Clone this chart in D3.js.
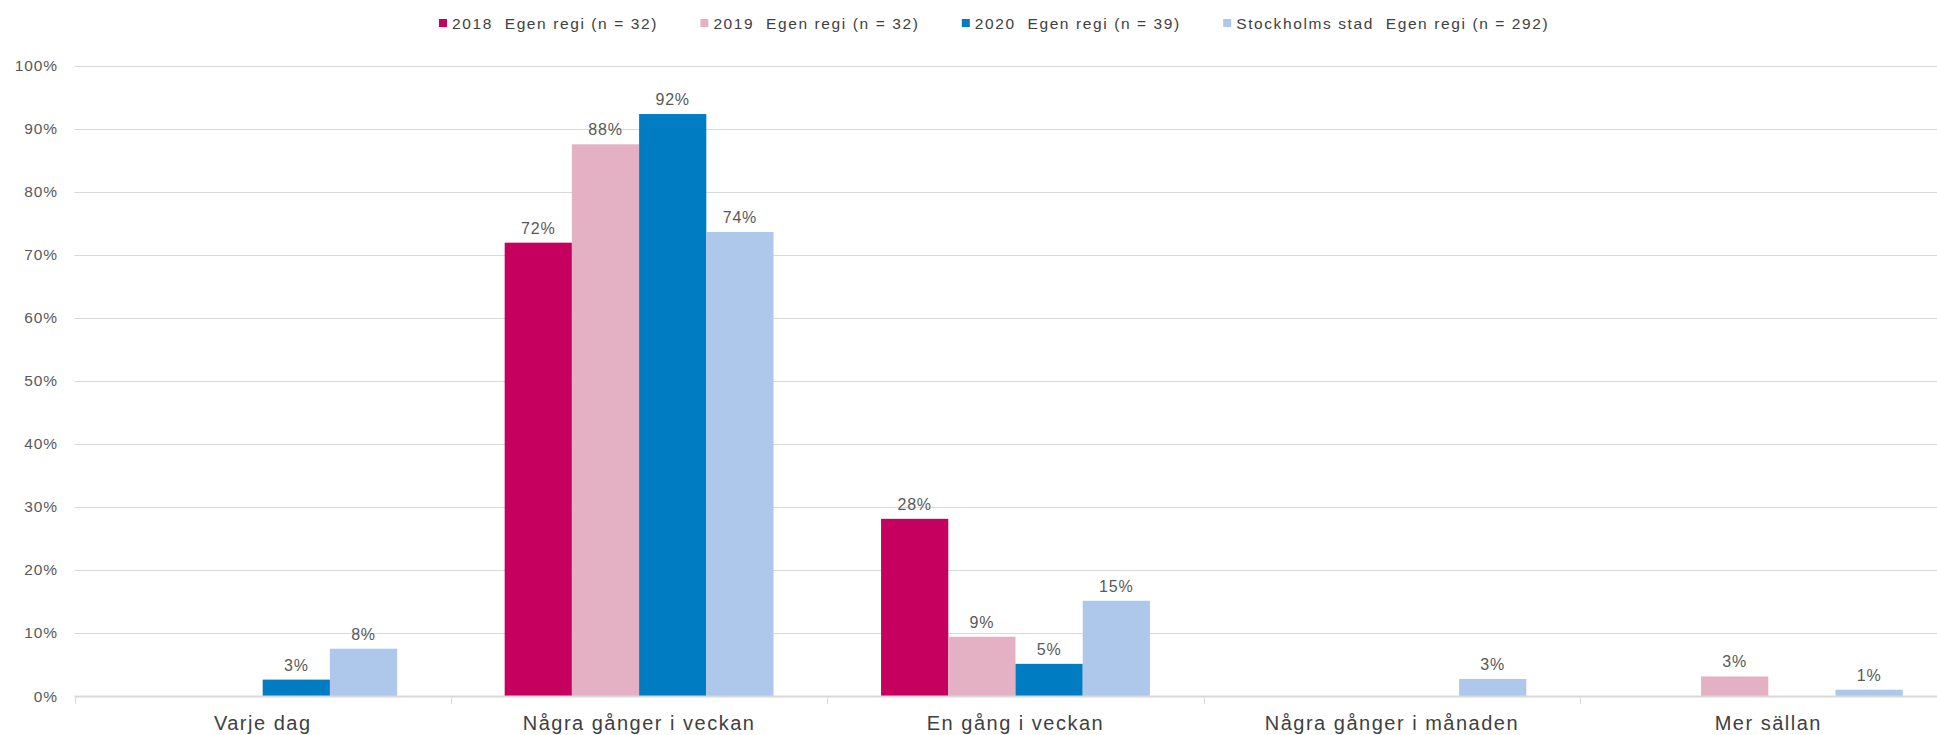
<!DOCTYPE html>
<html>
<head>
<meta charset="utf-8">
<script src="https://cdn.jsdelivr.net/npm/d3@7"></script>
<style>
html,body{margin:0;padding:0;background:#fff;}
svg{display:block;font-family:"Liberation Sans",Arial,sans-serif;}
text{white-space:pre;}
</style>
</head>
<body>
<svg id="chart" width="1937" height="735" xml:space="preserve"></svg>
<script>
const categories = ["Varje dag", "Några gånger i veckan", "En gång i veckan", "Några gånger i månaden", "Mer sällan"];
const seriesNames = ["2018  Egen regi (n = 32)", "2019  Egen regi (n = 32)", "2020  Egen regi (n = 39)", "Stockholms stad  Egen regi (n = 292)"];
const values2018 = [0, 71.9, 28.1, 0, 0];
const values2019 = [0, 87.5, 9.4, 0, 3.1];
const values2020 = [2.6, 92.3, 5.1, 0, 0];
const valuesStockholm = [7.5, 73.6, 15.1, 2.7, 1.0];
const yTicks = [0, 10, 20, 30, 40, 50, 60, 70, 80, 90, 100];
const colors = ["#C6005F", "#E3B1C3", "#007CC3", "#ADC8EB"];

const series = [values2018, values2019, values2020, valuesStockholm];

const svg = d3.select("#chart");
const plotLeft = 74.5, catW = 376.4;
const plotRight = plotLeft + catW * categories.length;

const x0 = d3.scaleBand().domain(categories).range([plotLeft, plotRight]).paddingInner(0).paddingOuter(0);
const x1 = d3.scaleBand().domain(d3.range(series.length)).range([0, x0.bandwidth()]).paddingInner(0).paddingOuter(0.8);
const y = d3.scaleLinear().domain([0, 100]).range([696, 65.5]);

// gridlines
svg.append("g").selectAll("line").data(yTicks.filter(t => t > 0)).join("line")
  .attr("x1", plotLeft).attr("x2", 1937)
  .attr("y1", d => Math.round(y(d)) + 0.5).attr("y2", d => Math.round(y(d)) + 0.5)
  .attr("stroke", "#D9D9D9").attr("stroke-width", 1);

// y tick labels
svg.append("g").selectAll("text").data(yTicks).join("text")
  .attr("x", 58).attr("y", d => y(d) + 5.5)
  .attr("text-anchor", "end")
  .attr("font-size", 15.5).attr("letter-spacing", 0.9)
  .attr("fill", "#595959")
  .text(d => d + "%");

// bars
const groups = svg.append("g").selectAll("g").data(categories).join("g")
  .attr("transform", d => `translate(${x0(d)},0)`);

groups.selectAll("rect").data((c, ci) => series.map((s, si) => ({si, v: s[ci]}))).join("rect")
  .filter(d => d.v > 0)
  .attr("x", d => x1(d.si)).attr("width", x1.bandwidth())
  .attr("y", d => y(d.v)).attr("height", d => y(0) - y(d.v))
  .attr("fill", d => colors[d.si]);

groups.selectAll("text.lbl").data((c, ci) => series.map((s, si) => ({si, v: s[ci]})).filter(d => d.v > 0)).join("text")
  .attr("class", "lbl")
  .attr("x", d => x1(d.si) + x1.bandwidth() / 2)
  .attr("y", d => y(d.v) - 9)
  .attr("text-anchor", "middle")
  .attr("font-size", 16).attr("letter-spacing", 0.8)
  .attr("fill", "#595959")
  .text(d => Math.round(d.v) + "%");

// x axis line
svg.append("line").attr("x1", plotLeft).attr("x2", 1937)
  .attr("y1", y(0) + 0.5).attr("y2", y(0) + 0.5)
  .attr("stroke", "#D9D9D9").attr("stroke-width", 2);

// category separator ticks
svg.append("g").selectAll("line").data(categories).join("line")
  .attr("x1", d => Math.round(x0(d)) + 0.5).attr("x2", d => Math.round(x0(d)) + 0.5)
  .attr("y1", y(0)).attr("y2", y(0) + 8)
  .attr("stroke", "#D9D9D9").attr("stroke-width", 1);

// category labels
svg.append("g").selectAll("text").data(categories).join("text")
  .attr("x", d => x0(d) + x0.bandwidth() / 2)
  .attr("y", 729.5)
  .attr("text-anchor", "middle")
  .attr("font-size", 20).attr("letter-spacing", 1.5)
  .attr("fill", "#404040")
  .text(d => d);

// legend
const legend = svg.append("g").selectAll("g").data(seriesNames).join("g")
  .attr("transform", (d, i) => `translate(${439 + i * 261.4},0)`);
legend.append("rect").attr("x", 0).attr("y", 19).attr("width", 8).attr("height", 8)
  .attr("fill", (d, i) => colors[i]);
legend.append("text").attr("x", 13).attr("y", 29.3)
  .attr("font-size", 15.5).attr("letter-spacing", 1.6)
  .attr("fill", "#404040")
  .text(d => d);
</script>
</body>
</html>
